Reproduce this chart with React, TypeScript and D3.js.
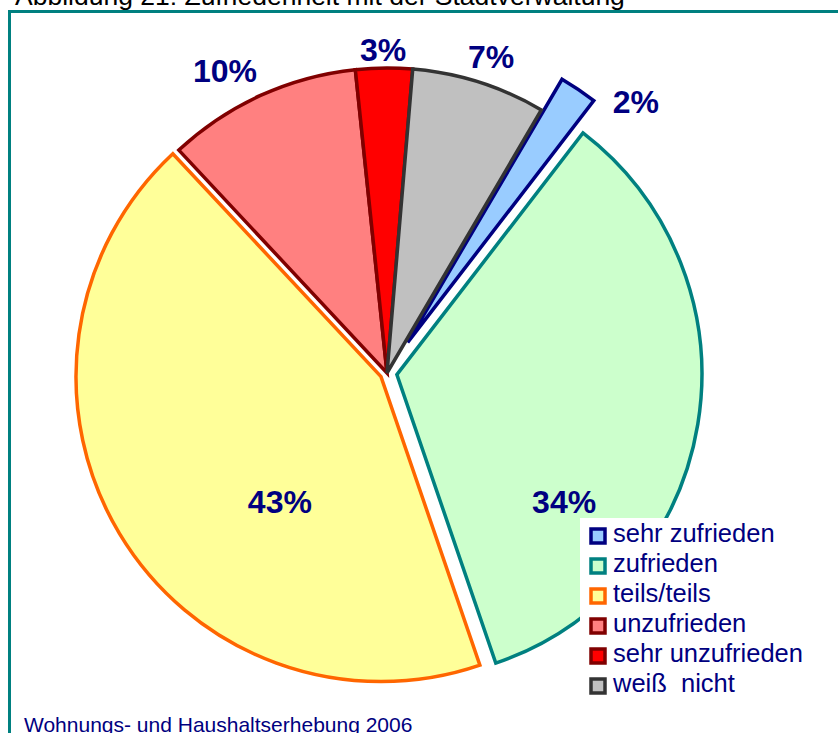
import React from "react";
import * as d3 from "d3";

const categories = ["sehr zufrieden", "zufrieden", "teils/teils", "unzufrieden", "sehr unzufrieden", "weiß  nicht"];
const values = [2.0, 34.3, 43.3, 10.3, 3.0, 7.1];
const percentLabels = ["2%", "34%", "43%", "10%", "3%", "7%"];
const fills = ["#99CCFF", "#CCFFCC", "#FFFF99", "#FF8080", "#FF0000", "#C0C0C0"];
const strokes = ["#000080", "#008080", "#FF6600", "#800000", "#800000", "#333333"];
const explode = [37, 10, 7, 0, 0, 0];
const labelAngleDeg = [43.4, 127.2, 218.9, 331.8, 359.3, 18.2];
const labelDist = [332, 210, 161, 343, 324, 333];

const W = 838;
const H = 733;
const cx = 387;
const cy = 373;
const R = 305;
const startDeg = 30.4;
const font = "'Liberation Sans', Arial, Helvetica, sans-serif";

export default function App() {
  const start = (startDeg * Math.PI) / 180;
  const pie = d3
    .pie<number>()
    .value((d) => d)
    .sort(null)
    .startAngle(start)
    .endAngle(start + 2 * Math.PI);
  const arcs = pie(values);
  const arc = d3.arc<d3.PieArcDatum<number>>().innerRadius(0).outerRadius(R);

  const legendX = 598;
  const legendY0 = 536;
  const legendStep = 30;

  return (
    <svg
      width={W}
      height={H}
      style={{ position: "absolute", left: 0, top: 0, display: "block", background: "#fff" }}
      fontFamily={font}
    >
      <rect x={0} y={0} width={W} height={H} fill="#fff" />
      <text x={15} y={5} fontSize={26.5} fill="#000">
        Abbildung 21: Zufriedenheit mit der Stadtverwaltung
      </text>
      <rect x={9.5} y={11.5} width={W + 20} height={H + 20} fill="#fff" stroke="#008080" strokeWidth={3} />

      {arcs.map((a, i) => {
        const mid = (a.startAngle + a.endAngle) / 2;
        const ox = cx + explode[i] * Math.sin(mid);
        const oy = cy - explode[i] * Math.cos(mid);
        return (
          <path
            key={"s" + i}
            d={arc(a) || ""}
            transform={`translate(${ox},${oy})`}
            fill={fills[i]}
            stroke={strokes[i]}
            strokeWidth={3.5}
            strokeLinejoin="miter"
          />
        );
      })}

      {arcs.map((a, i) => {
        const mid = (a.startAngle + a.endAngle) / 2;
        const ox = cx + explode[i] * Math.sin(mid);
        const oy = cy - explode[i] * Math.cos(mid);
        const la = (labelAngleDeg[i] * Math.PI) / 180;
        const lx = ox + labelDist[i] * Math.sin(la);
        const ly = oy - labelDist[i] * Math.cos(la);
        return (
          <text
            key={"l" + i}
            x={lx}
            y={ly}
            dy="0.36em"
            textAnchor="middle"
            fontSize={32}
            fontWeight="bold"
            fill="#000080"
          >
            {percentLabels[i]}
          </text>
        );
      })}

      <rect x={580} y={518} width={W - 580} height={188} fill="#fff" />
      {categories.map((c, i) => {
        const y = legendY0 + i * legendStep;
        return (
          <g key={"g" + i}>
            <rect
              x={legendX - 7}
              y={y - 7}
              width={14}
              height={14}
              fill={fills[i]}
              stroke={strokes[i]}
              strokeWidth={3.5}
            />
            <text x={613} y={y + 6} fontSize={25.5} fill="#000080" style={{ whiteSpace: "pre" }}>
              {c}
            </text>
          </g>
        );
      })}

      <text x={24} y={732} fontSize={21} fill="#000080">
        Wohnungs- und Haushaltserhebung 2006
      </text>
    </svg>
  );
}
